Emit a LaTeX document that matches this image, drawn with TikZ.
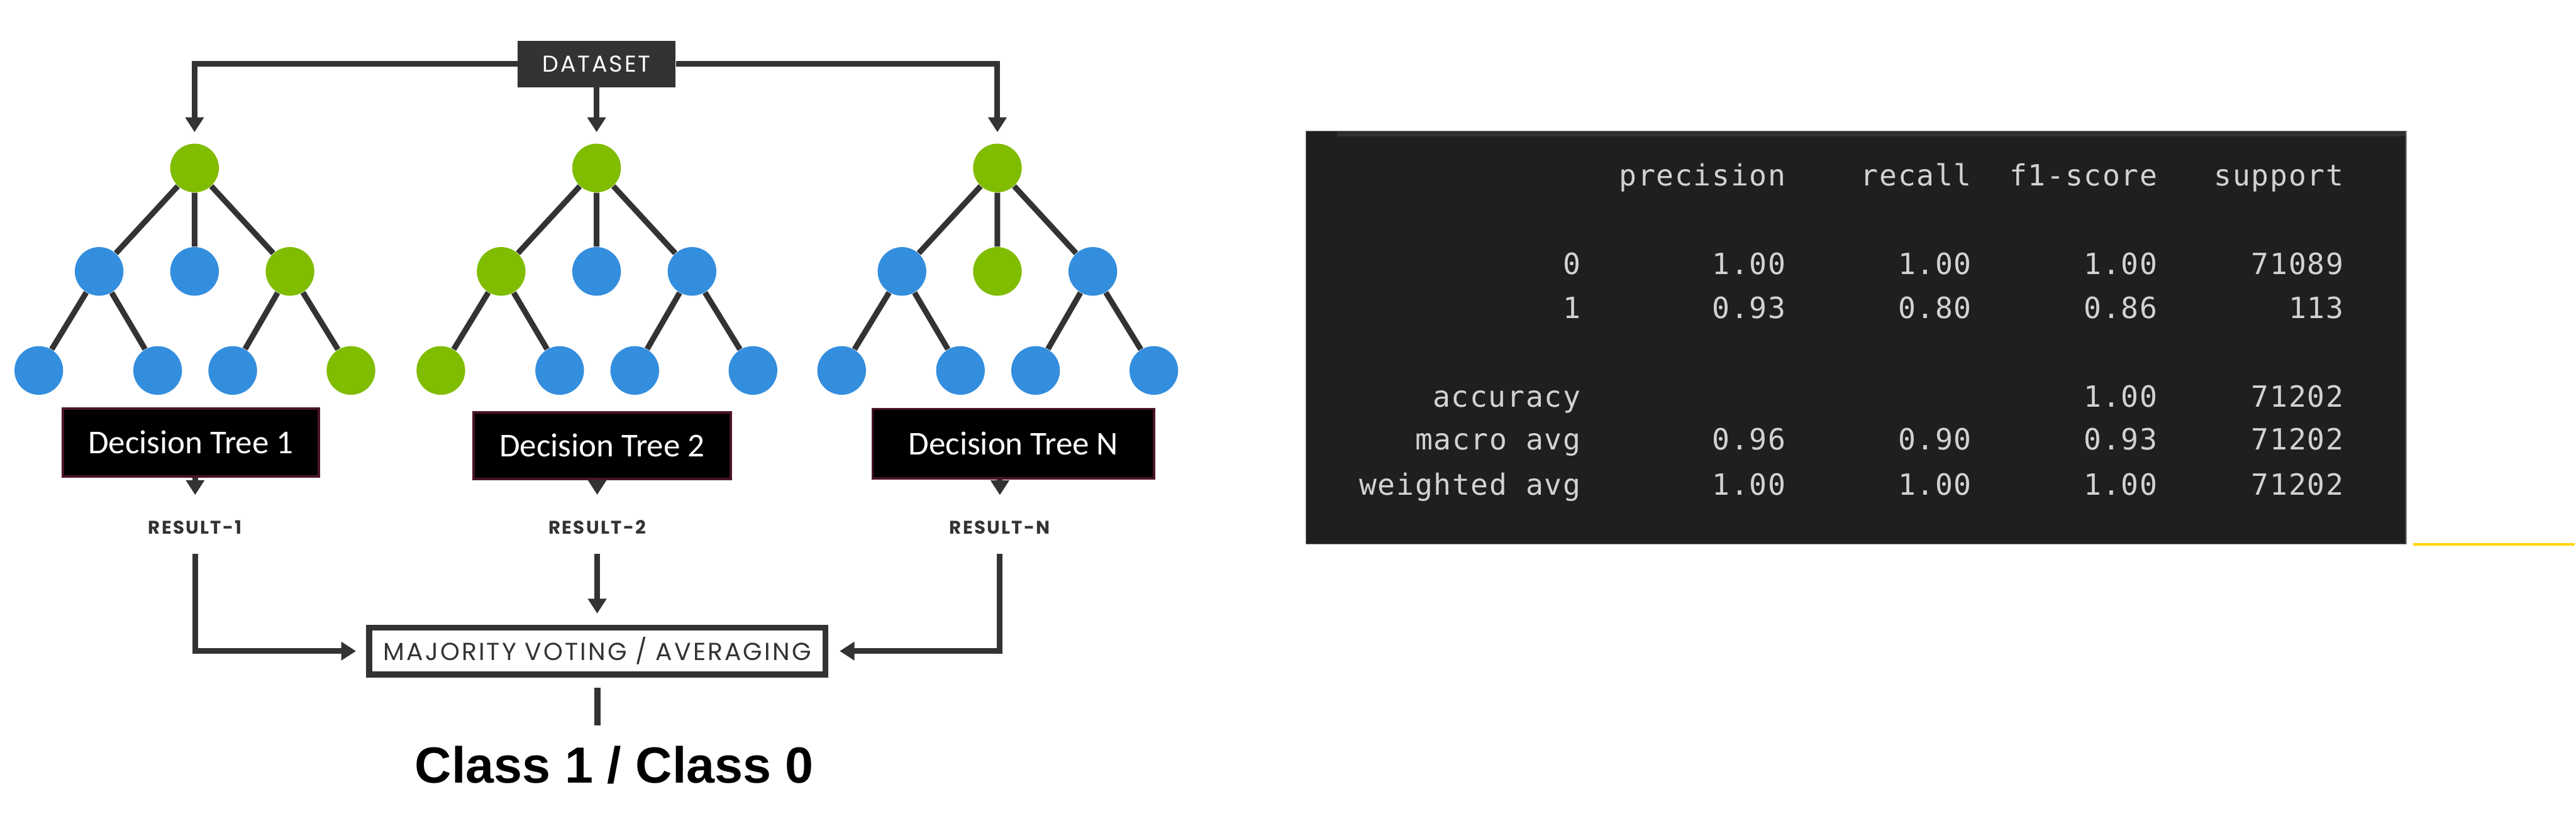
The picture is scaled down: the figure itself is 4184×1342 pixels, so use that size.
\documentclass[tikz,border=0pt]{standalone}
\usepackage{fontspec}
\setmonofont{DejaVu Sans Mono}[LetterSpace=3.5]
\newfontfamily\treefont{Carlito}
\newfontfamily\flowfont[LetterSpace=8]{Poppins}
\newfontfamily\classfont{Liberation Sans}
\usepackage{tikz}
\usetikzlibrary{arrows.meta, positioning, calc}

\definecolor{treegreen}{HTML}{80BC00}
\definecolor{treeblue}{HTML}{348EDE}
\definecolor{darkline}{HTML}{333333}
\definecolor{boxrim}{HTML}{4A1526}
\definecolor{panel}{HTML}{1F1F1F}
\definecolor{panelrim}{HTML}{7A7A7A}
\definecolor{panelstrip}{HTML}{303034}
\definecolor{paneltext}{HTML}{D2D2D2}
\definecolor{rulecolor}{HTML}{FFD500}

\begin{document}
\begin{tikzpicture}[x=0.01cm, y=-0.01cm,
    leaf/.style={circle, fill=#1, minimum size=0.79cm, inner sep=0pt},
    treeline/.style={line width=2.6pt, darkline},
    arrow/.style={-{Triangle[length=0.24cm, width=0.29cm]}, line width=2.6pt, darkline},
    databox/.style={rectangle, fill=darkline, text=white, minimum width=2.56cm,
                    minimum height=0.75cm, inner sep=0pt,
                    font=\flowfont\fontsize{10.6}{12}\selectfont},
    treebox/.style={rectangle, draw=boxrim, line width=1.1pt, fill=black, text=white,
                    minimum height=1.1cm, inner sep=0pt,
                    font=\treefont\fontsize{15.4}{18}\selectfont},
    resultlabel/.style={inner sep=0pt, text=darkline,
                    font=\flowfont\bfseries\fontsize{8.5}{10}\selectfont},
    votebox/.style={rectangle, draw=darkline, line width=2.85pt, fill=white,
                    minimum width=7.41cm, minimum height=0.76cm, inner sep=0pt,
                    text=darkline, font=\flowfont\fontsize{11.4}{13}\selectfont},
    cell/.style={anchor=base east, inner sep=0pt, text=paneltext,
                 font=\ttfamily\fontsize{13.5}{16}\selectfont}
]
    \useasboundingbox (0,0) rectangle (4184,1342);

    % the three trees
    \foreach \t/\dx/\ca/\cb/\cc/\cd/\ce/\cf/\cg/\ch in {
        1/0/treegreen/treeblue/treeblue/treegreen/treeblue/treeblue/treeblue/treegreen,
        2/653/treegreen/treegreen/treeblue/treeblue/treegreen/treeblue/treeblue/treeblue,
        3/1304/treegreen/treeblue/treegreen/treeblue/treeblue/treeblue/treeblue/treeblue}{
        \node[leaf=\ca] (t\t-r) at (316+\dx,273) {};
        \node[leaf=\cb] (t\t-a) at (161+\dx,441) {};
        \node[leaf=\cc] (t\t-b) at (316+\dx,441) {};
        \node[leaf=\cd] (t\t-c) at (471+\dx,441) {};
        \node[leaf=\ce] (t\t-aa) at (63+\dx,602) {};
        \node[leaf=\cf] (t\t-ab) at (256+\dx,602) {};
        \node[leaf=\cg] (t\t-ca) at (378+\dx,602) {};
        \node[leaf=\ch] (t\t-cb) at (570+\dx,602) {};
        \draw[treeline] (t\t-r) -- (t\t-a) (t\t-r) -- (t\t-b) (t\t-r) -- (t\t-c)
            (t\t-a) -- (t\t-aa) (t\t-a) -- (t\t-ab)
            (t\t-c) -- (t\t-ca) (t\t-c) -- (t\t-cb);
    }

    \node[databox] (data) at (969,104) {DATASET};
    \draw[arrow, shorten >=0.18cm] (data.west) -| (t1-r);
    \draw[arrow, shorten >=0.18cm] (data) -- (t2-r);
    \draw[arrow, shorten >=0.18cm] (data.east) -| (t3-r);

    \node[treebox, minimum width=4.16cm] (dt1) at (310,719) {Decision Tree 1};
    \node[treebox, minimum width=4.17cm, minimum height=1.08cm] (dt2) at (978,724) {Decision Tree 2};
    \node[treebox, minimum width=4.57cm, minimum height=1.13cm] (dt3) at (1646,721) {Decision Tree N};

    \node[resultlabel] (res1) at (317,857) {RESULT-1};
    \node[resultlabel] (res2) at (970,857) {RESULT-2};
    \node[resultlabel] (res3) at (1624,857) {RESULT-N};

    \draw[arrow, shorten >=0.41cm] (res1 |- dt1.south) -- (res1);
    \draw[arrow, shorten >=0.41cm] (res2 |- dt2.south) -- (res2);
    \draw[arrow, shorten >=0.41cm] (res3 |- dt3.south) -- (res3);

    \node[votebox] (vote) at (970,1058) {MAJORITY VOTING / AVERAGING};
    \draw[arrow, shorten <=0.31cm, shorten >=0.16cm] (res1) |- (vote.west);
    \draw[arrow, shorten <=0.31cm, shorten >=0.18cm] (res2) -- (vote);
    \draw[arrow, shorten <=0.31cm, shorten >=0.18cm] (res3) |- (vote.east);

    \node[inner sep=0pt, font=\classfont\bfseries\fontsize{23.5}{28}\selectfont] (cls) at (998,1243) {Class 1 / Class 0};
    \draw[line width=2.85pt, darkline, shorten <=0.16cm, shorten >=0.33cm] (vote.south) -- (vote.south |- cls.north);

    % classification report panel
    \draw[panelrim, fill=panel, line width=0.4pt] (2121,213) rectangle (3908,884);
    \fill[panelstrip] (2172,214) rectangle (3907,222);
    \draw[rulecolor, line width=1.2pt] (3919,885) -- (4182,885);

    \node[cell] (h1) at (2901,302) {precision};
    \node[cell] (h2) at (3203,302) {recall};
    \node[cell] (h3) at (3505,302) {f1-score};
    \node[cell] (h4) at (3807,302) {support};
    \foreach \r/\y/\lab/\p/\rc/\f/\s in {
        0/446/0/1.00/1.00/1.00/71089,
        1/517/1/0.93/0.80/0.86/113,
        3/731/macro avg/0.96/0.90/0.93/71202,
        4/804/weighted avg/1.00/1.00/1.00/71202}{
        \node[cell] (l\r) at (2568,\y) {\lab};
        \node[cell] (p\r) at (2901,\y) {\p};
        \node[cell] (c\r) at (3203,\y) {\rc};
        \node[cell] (f\r) at (3505,\y) {\f};
        \node[cell] (s\r) at (3807,\y) {\s};
    }
    \node[cell] (l2) at (2568,661) {accuracy};
    \node[cell] (f2) at (3505,661) {1.00};
    \node[cell] (s2) at (3807,661) {71202};
\end{tikzpicture}
\end{document}
